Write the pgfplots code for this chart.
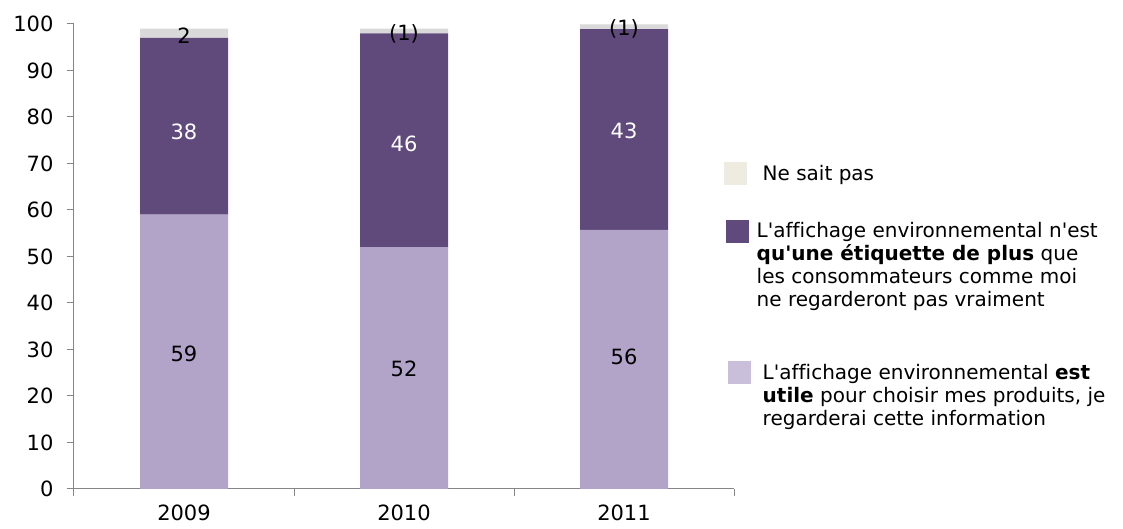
\documentclass[border=0pt]{standalone}
\usepackage{pgfplots}
\pgfplotsset{compat=1.18}
\usepackage{fontspec}
\setmainfont{DejaVu Sans}[Ligatures=NoCommon]

\definecolor{lowc}{HTML}{B2A3C8}
\definecolor{midc}{HTML}{5F4A7B}
\definecolor{topc}{HTML}{D9D9D9}
\definecolor{legtop}{HTML}{EEECE1}
\definecolor{leglow}{HTML}{C9BFDA}
\definecolor{axc}{HTML}{868686}

\newcommand{\bigfont}{\fontsize{20}{23}\selectfont}
\newcommand{\tickfont}{\fontsize{21}{24}\selectfont}
\newcommand{\q}{\textquotesingle}

\begin{document}
\begin{tikzpicture}
\path (0,0) rectangle (1123pt,529pt);

% bars
\begin{axis}[
  at={(74pt,40pt)}, anchor=south west,
  scale only axis, width=660pt, height=465pt,
  xmin=-0.5, xmax=2.5, ymin=0, ymax=100,
  ybar stacked, bar width=88pt,
  axis lines*=left,
  axis line style={draw=axc, line width=1pt},
  xtick={-0.5,0.5,1.5,2.5}, xticklabels={},
  extra x ticks={0,1,2}, extra x tick labels={2009,2010,2011},
  extra x tick style={major tick length=0pt, xticklabel style={yshift=-12pt}},
  ytick={0,10,...,100},
  tick align=outside, major tick length=7pt,
  tick style={draw=axc, line width=1pt},
  ticklabel style={font=\tickfont, text=black},
  yticklabel style={xshift=-10pt},
  /pgf/number format/assume math mode=true,
  clip=false,
  legend style={at={(0.985,0.703)}, anchor=north west, draw=none, fill=none,
    inner sep=0pt, row sep=34pt, column sep=5pt, font=\bigfont,
    cells={anchor=base west},
    nodes={inner sep=1pt, text depth=}},
]
\addlegendimage{legend image code/.code={\fill[legtop] (0pt,-4pt) rectangle (22pt,18pt);}}
\addlegendentry{\hspace*{6pt}Ne sait pas}
\addlegendimage{legend image code/.code={\fill[midc] (2pt,-4pt) rectangle (24pt,18pt);}}
\addlegendentry{\begin{tabular}[t]{@{}l@{}}L\q affichage environnemental n\q est\\
  \textbf{qu\q une étiquette de plus} que\\
  les consommateurs comme moi\\
  ne regarderont pas vraiment\rule[-19pt]{0pt}{1pt}\end{tabular}}
\addlegendimage{legend image code/.code={\fill[leglow] (4pt,-4pt) rectangle (26pt,18pt);}}
\addlegendentry{\hspace*{6pt}\begin{tabular}[t]{@{}l@{}}L\q affichage environnemental \textbf{est}\\
  \textbf{utile} pour choisir mes produits, je\\
  regarderai cette information\end{tabular}}

\addplot[fill=lowc, draw=none] coordinates {(0,59) (1,52) (2,55.7)};
\addplot[fill=midc, draw=none] coordinates {(0,38) (1,46) (2,43.2)};
\addplot[fill=topc, draw=none] coordinates {(0,2) (1,1) (2,1)};
\end{axis}

% value labels
\begin{axis}[
  at={(74pt,40pt)}, anchor=south west,
  scale only axis, width=660pt, height=465pt,
  xmin=-0.5, xmax=2.5, ymin=0, ymax=100,
  hide axis, clip=false,
  nodes near coords style={anchor=center, font=\tickfont},
]
\addplot[only marks, mark=none, nodes near coords, point meta=explicit symbolic,
  nodes near coords style={text=black}]
  coordinates {(0,29)[59] (1,25.8)[52] (2,28.4)[56]
               (0,97.5)[2] (1,97.8)[(1)] (2,98.9)[(1)]};
\addplot[only marks, mark=none, nodes near coords, point meta=explicit symbolic,
  nodes near coords style={text=white}]
  coordinates {(0,76.8)[38] (1,74.2)[46] (2,77)[43]};
\end{axis}
\end{tikzpicture}
\end{document}
